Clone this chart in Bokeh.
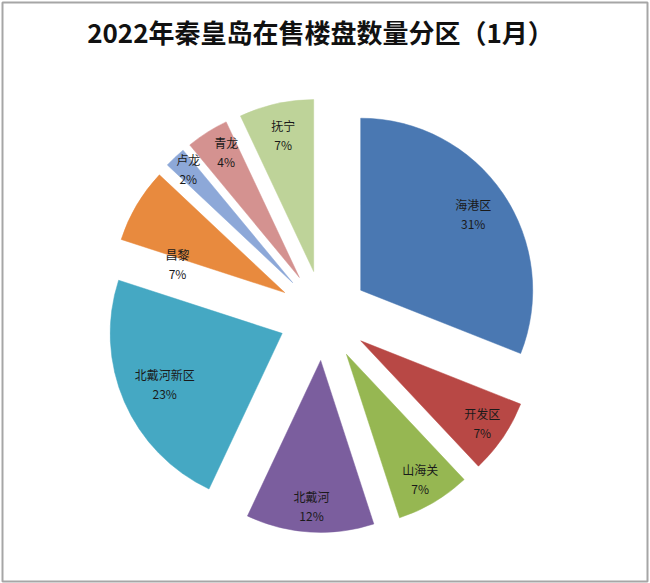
import math
from bokeh.plotting import figure
from bokeh.models import Range1d, ColumnDataSource
from bokeh.core.properties import value
from bokeh.embed import file_html
from bokeh.resources import INLINE

# ---- data ----
title_text = "2022年秦皇岛在售楼盘数量分区（1月）"
districts = ["海港区", "开发区", "山海关", "北戴河", "北戴河新区", "昌黎", "卢龙", "青龙", "抚宁"]
shares = [31, 7, 7, 12, 23, 7, 2, 4, 7]
colors = ["#4A78B2", "#B84845", "#96B752", "#7B5E9E", "#45A8C3",
          "#E88A3E", "#8DA8D8", "#D49290", "#BED399"]

# ---- layout ----
W, H = 650, 583
cx, cy = 323, H - 315
R = 172
explode = 45
label_r = [181, 192, 190, 191, 173, 155, 199, 190, 185]
label_dang = [0, 0, 0, 0, 0, -11, 0.4, 1.6, 0]
line_gap = 9.5

total = float(sum(shares))
xs, ys, starts, ends = [], [], [], []
lx, ly, names, pcts = [], [], [], []
cum = 0.0
for i, s in enumerate(shares):
    t1 = cum / total * 360.0
    t2 = (cum + s) / total * 360.0
    cum += s
    mid = math.radians((t1 + t2) / 2.0)
    xs.append(cx + explode * math.sin(mid))
    ys.append(cy + explode * math.cos(mid))
    starts.append(math.radians(90.0 - t2))
    ends.append(math.radians(90.0 - t1))
    tl = mid + math.radians(label_dang[i])
    lx.append(cx + label_r[i] * math.sin(tl))
    ly.append(cy + label_r[i] * math.cos(tl))
    names.append(districts[i])
    pcts.append("%d%%" % round(s / total * 100))

src = ColumnDataSource(dict(x=xs, y=ys, start=starts, end=ends, color=colors,
                            lx=lx, ly1=[v + line_gap for v in ly],
                            ly2=[v - line_gap for v in ly], name=names, pct=pcts))

p = figure(width=W, height=H, output_backend="svg", toolbar_location=None,
           x_range=Range1d(0, W), y_range=Range1d(0, H), min_border=0)
p.axis.visible = False
p.grid.visible = False
p.outline_line_color = None
p.background_fill_color = "white"
p.border_fill_color = "white"

p.wedge(x="x", y="y", radius=R, start_angle="start", end_angle="end",
        direction="anticlock", fill_color="color", line_color="color",
        line_width=0.5, source=src)

font = value("Noto Sans CJK SC")
p.text(x="lx", y="ly1", text="name", source=src, text_align="center",
       text_baseline="middle", text_font=font, text_font_size="12px",
       text_color="#1a1a1a")
p.text(x="lx", y="ly2", text="pct", source=src, text_align="center",
       text_baseline="middle", text_font=font, text_font_size="12px",
       text_color="#1a1a1a")

p.text(x=[320], y=[H - 31], text=[title_text], text_align="center",
       text_baseline="middle", text_font=font, text_font_size="26px",
       text_font_style="bold", text_color="#111111")

# outer frame
p.quad(left=[2], right=[W - 3], bottom=[2], top=[H - 2], fill_color=None,
       line_color="#A6A6A6", line_width=2)

open("out.html", "w").write(file_html(p, INLINE))
